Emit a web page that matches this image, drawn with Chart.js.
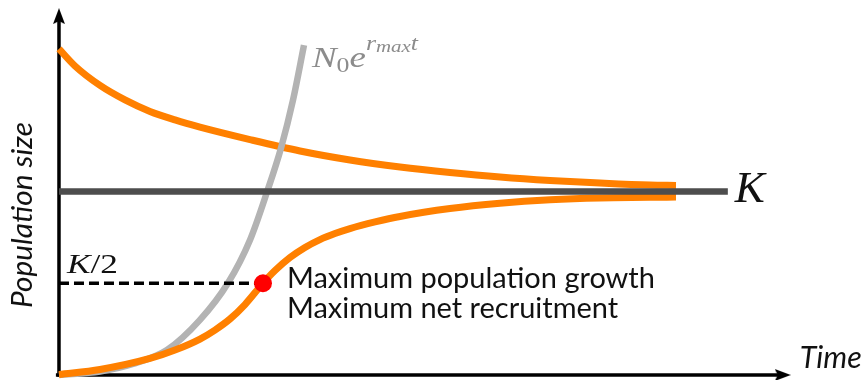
<!DOCTYPE html>
<html>
<head>
<meta charset="utf-8">
<script src="https://cdn.jsdelivr.net/npm/chart.js@4.4.0/dist/chart.umd.min.js"></script>
<style>
  body { margin: 0; background: #fff; }
  #grafo { display: block; }
</style>
</head>
<body>
<canvas id="grafo" width="865" height="380"></canvas>
<script>
// capacidad de carga
const K = 100;

// curva que baja desde arriba hacia K
const tiempoArriba = [0, 0.259, 0.665, 1.070, 1.475, 1.880, 2.285, 3.096, 3.906, 4.716, 5.527, 6.337, 7.147, 7.958, 8.768, 9.579, 10.0];
const poblacionArriba = [177.7, 168.4, 157.8, 149.9, 143.6, 139.0, 135.1, 128.3, 122.1, 117.2, 113.4, 110.4, 107.9, 106.0, 104.6, 103.5, 103.3];

// curva logistica (sube desde cero hacia K)
const tiempoAbajo = [0, 0.665, 1.475, 1.880, 2.285, 2.528, 2.771, 3.014, 3.306, 3.501, 3.744, 3.987, 4.230, 4.473, 4.716, 5.122, 5.527, 6.337, 7.147, 7.958, 8.768, 9.579, 10.0];
const poblacionAbajo = [0.27, 3.0, 9.0, 13.6, 19.6, 24.5, 30.5, 38.4, 50, 56.9, 64.0, 69.5, 73.8, 77.1, 79.8, 83.4, 86.4, 90.7, 93.6, 95.5, 96.5, 96.8, 97.0];

// crecimiento exponencial sin limite
const tiempoExp = [0, 0.665, 1.199, 1.750, 2.285, 2.739, 3.096, 3.371, 3.598, 3.793, 3.971];
const poblacionExp = [0, 1.9, 6.0, 13.6, 30.0, 50.1, 73.6, 99.7, 123.7, 149.9, 179.8];

// punto de maximo crecimiento (en K/2)
const indiceMax = 8;
// fin de la linea de K y de los ejes
const finK = 10.84;
const finEjeX = 11.73;
const finEjeY = 195.6;

const naranja = '#ff8000';
const gris = '#b3b3b3';
const grisOscuro = '#4d4d4d';

// juntamos x e y en puntos para chart.js
function puntos(xs, ys) {
  return xs.map((x, i) => ({x: x, y: ys[i]}));
}

// punta de flecha dibujada en un canvas aparte (se usa como pointStyle)
function crearFlecha() {
  const c = document.createElement('canvas');
  c.width = 12;
  c.height = 16;
  const g = c.getContext('2d');
  g.fillStyle = '#000';
  g.beginPath();
  g.moveTo(6, 0);
  g.lineTo(12, 16);
  g.lineTo(6, 13);
  g.lineTo(0, 16);
  g.closePath();
  g.fill();
  return c;
}
const flecha = crearFlecha();

// ajusta el tamaño de la fuente para que el texto ocupe un ancho dado
function ajustarFuente(ctx, texto, estilo, familia, ancho) {
  ctx.font = `${estilo} 100px ${familia}`;
  const w = ctx.measureText(texto).width;
  const size = 100 * ancho / w;
  ctx.font = `${estilo} ${size}px ${familia}`;
  return size;
}

// dibuja trozos de texto seguidos (para la formula) y los escala a un ancho
function textoCompuesto(ctx, trozos, x, y, ancho) {
  let total = 0;
  for (let t of trozos) {
    ctx.font = t.font;
    total += ctx.measureText(t.texto).width;
  }
  ctx.save();
  ctx.translate(x, y);
  ctx.scale(ancho / total, 1);
  let cx = 0;
  for (let t of trozos) {
    ctx.font = t.font;
    ctx.fillText(t.texto, cx, t.dy);
    cx += ctx.measureText(t.texto).width;
  }
  ctx.restore();
}

const serif = '"Liberation Serif", "DejaVu Serif", serif';
const sans = 'Lato, "DejaVu Sans", sans-serif';

// plugin para los textos
const etiquetas = {
  id: 'etiquetas',
  afterDatasetsDraw(chart) {
    const ctx = chart.ctx;
    const sx = chart.scales.x;
    const sy = chart.scales.y;
    const px = v => sx.getPixelForValue(v);
    const py = v => sy.getPixelForValue(v);
    ctx.save();
    ctx.textBaseline = 'alphabetic';
    ctx.textAlign = 'left';

    // K al final de la linea
    ctx.fillStyle = '#111';
    ajustarFuente(ctx, 'K', 'italic', serif, 30);
    ctx.fillText('K', px(finK) + 7, py(K) + 10);

    // K/2 sobre la linea punteada
    ctx.fillStyle = '#111';
    textoCompuesto(ctx, [
      {texto: 'K', font: `italic 27px ${serif}`, dy: 0},
      {texto: '/2', font: `27px ${serif}`, dy: 0}
    ], px(0) + 8, py(K / 2) - 10, 51);

    // formula de la exponencial
    ctx.fillStyle = '#8c8c8c';
    const xe = tiempoExp[tiempoExp.length - 1];
    const ye = poblacionExp[poblacionExp.length - 1];
    textoCompuesto(ctx, [
      {texto: 'N', font: `italic 30px ${serif}`, dy: 0},
      {texto: '0', font: `21px ${serif}`, dy: 5},
      {texto: 'e', font: `italic 30px ${serif}`, dy: 0},
      {texto: 'r', font: `italic 21px ${serif}`, dy: -17},
      {texto: 'max', font: `italic 17px ${serif}`, dy: -15},
      {texto: 't', font: `italic 21px ${serif}`, dy: -17}
    ], px(xe) + 8, py(ye) + 22, 106);

    // texto del punto rojo
    ctx.fillStyle = '#111';
    const xd = px(tiempoAbajo[indiceMax]);
    const yd = py(poblacionAbajo[indiceMax]);
    ajustarFuente(ctx, 'Maximum population growth', 'normal', sans, 368);
    ctx.fillText('Maximum population growth', xd + 24, yd + 5);
    ctx.fillText('Maximum net recruitment', xd + 24, yd + 35);

    // titulos de los ejes
    ajustarFuente(ctx, 'Time', 'italic', sans, 62);
    ctx.fillText('Time', px(finEjeX) + 17, py(0) - 7);

    ctx.save();
    ctx.translate(px(0) - 27, py(0) - 67);
    ctx.rotate(-Math.PI / 2);
    ajustarFuente(ctx, 'Population size', 'italic', sans, 186);
    ctx.fillText('Population size', 0, 0);
    ctx.restore();

    ctx.restore();
  }
};

const $grafo = document.querySelector('#grafo');

const grafica = new Chart($grafo, {
  type: 'line',
  data: {
    datasets: [
      {
        // punto rojo en K/2
        data: [{x: tiempoAbajo[indiceMax], y: poblacionAbajo[indiceMax]}],
        showLine: false,
        pointRadius: 9,
        pointBackgroundColor: '#ff0000',
        pointBorderWidth: 0,
        order: 1
      },
      {
        // linea de K
        data: [{x: 0, y: K}, {x: finK, y: K}],
        borderColor: grisOscuro,
        borderWidth: 6.5,
        pointRadius: 0,
        order: 2
      },
      {
        // linea punteada K/2
        data: [{x: 0, y: K / 2}, {x: tiempoAbajo[indiceMax], y: K / 2}],
        borderColor: '#000',
        borderWidth: 3.5,
        borderDash: [10, 5],
        pointRadius: 0,
        order: 3
      },
      {
        data: puntos(tiempoAbajo, poblacionAbajo),
        borderColor: naranja,
        borderWidth: 7,
        pointRadius: 0,
        cubicInterpolationMode: 'monotone',
        order: 4
      },
      {
        data: puntos(tiempoExp, poblacionExp),
        borderColor: gris,
        borderWidth: 6.5,
        pointRadius: 0,
        cubicInterpolationMode: 'monotone',
        order: 5
      },
      {
        data: puntos(tiempoArriba, poblacionArriba),
        borderColor: naranja,
        borderWidth: 7,
        pointRadius: 0,
        cubicInterpolationMode: 'monotone',
        order: 6
      },
      {
        // eje y con flecha
        data: [{x: 0, y: -1}, {x: 0, y: finEjeY}],
        borderColor: '#000',
        borderWidth: 3.5,
        pointRadius: [0, 8],
        pointStyle: flecha,
        pointRotation: 0,
        order: 7
      },
      {
        // eje x con flecha
        data: [{x: -0.05, y: 0}, {x: finEjeX, y: 0}],
        borderColor: '#000',
        borderWidth: 3.5,
        pointRadius: [0, 8],
        pointStyle: flecha,
        pointRotation: 90,
        order: 7
      }
    ]
  },
  options: {
    responsive: false,
    animation: false,
    devicePixelRatio: 1,
    layout: { padding: 0, autoPadding: false },
    plugins: {
      legend: { display: false },
      tooltip: { enabled: false }
    },
    scales: {
      x: { type: 'linear', min: -0.956, max: 13.063, display: false },
      y: { type: 'linear', min: -2.725, max: 204.36, display: false }
    }
  },
  plugins: [etiquetas]
});
</script>
</body>
</html>
